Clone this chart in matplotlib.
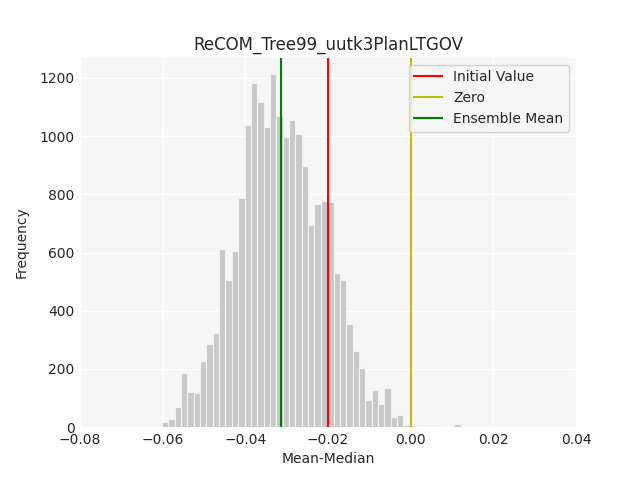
import numpy as np
import matplotlib
matplotlib.use("Agg")
import matplotlib.pyplot as plt

title = "ReCOM_Tree99_uutk3PlanLTGOV"

# histogram counts (50 bins)
counts = [
    1, 1, 2, 18, 29, 70, 185, 120, 116, 229,
    285, 325, 613, 507, 605, 787, 1039, 1182, 1116, 1032,
    1213, 1068, 998, 1056, 1008, 898, 695, 768, 777, 773,
    529, 505, 356, 263, 205, 94, 129, 80, 136, 36,
    43, 9, 4, 4, 1, 5, 0, 0, 0, 10,
]
bin_lo, bin_hi = -0.0648, 0.0121

initial_value = -0.0201
zero_value = 0.0
ensemble_mean = -0.0313

edges = np.linspace(bin_lo, bin_hi, len(counts) + 1)
centers = (edges[:-1] + edges[1:]) / 2

text_color = "#262626"
plt.rcParams.update({
    "text.color": text_color,
    "axes.labelcolor": text_color,
    "xtick.color": text_color,
    "ytick.color": text_color,
})

fig, ax = plt.subplots(figsize=(6.4, 4.8), dpi=100)
ax.set_facecolor("#f6f6f6")
ax.set_axisbelow(True)
ax.grid(True, color="white", linewidth=1.0)
for s in ax.spines.values():
    s.set_visible(False)
ax.tick_params(length=0, pad=4)

ax.hist(centers, bins=edges, weights=counts, color="#c8c8c8",
        edgecolor="#f2f2f2", linewidth=0.8)

ax.axvline(initial_value, color="r", linewidth=1.5, label="Initial Value")
ax.axvline(zero_value, color="y", linewidth=1.5, label="Zero")
ax.axvline(ensemble_mean, color="g", linewidth=1.5, label="Ensemble Mean")

ax.set_xlim(-0.08, 0.04)
ax.set_xticks([-0.08, -0.06, -0.04, -0.02, 0.00, 0.02, 0.04])
ax.set_yticks([0, 200, 400, 600, 800, 1000, 1200])
ax.set_ylim(0, 1270)

ax.set_title(title, fontsize=12)
ax.set_xlabel("Mean-Median")
ax.set_ylabel("Frequency", labelpad=8)
leg = ax.legend(loc="upper right", facecolor="#f6f6f6", edgecolor="#cccccc",
                framealpha=0.8)

fig.savefig("out.png", dpi=100)
